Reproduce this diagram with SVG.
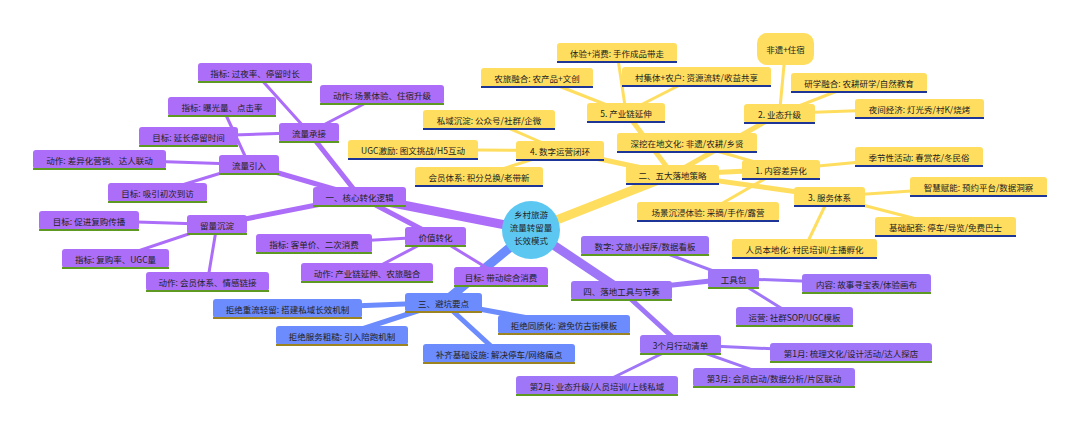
<svg xmlns="http://www.w3.org/2000/svg" width="1080" height="428" viewBox="0 0 1080 428">
<style>
text{font-family:"Noto Sans CJK SC","Noto Sans",sans-serif;font-size:8.5px;fill:#222;text-anchor:middle;dominant-baseline:central}
.s1 rect{fill:#AC6EF8}.s1 line{stroke:#5E9A22;stroke-width:2.2}
.s2 rect{fill:#FFDE5F}.s2 line{stroke:#1D3596;stroke-width:2.2}
.s3 rect{fill:#6C8BFD}.s3 line{stroke:#9C8420;stroke-width:2.2}
.s4 rect{fill:#A076F8}.s4 line{stroke:#5E9A22;stroke-width:2.2}
#edges line{stroke-linecap:round}
.e1{stroke:#AC6EF8}.e2{stroke:#FFDE5F}.e3{stroke:#6C8BFD}.e4{stroke:#A076F8}
.d0{stroke-width:9}.d1{stroke-width:5}.d2{stroke-width:3}
</style>
<rect width="1080" height="428" fill="#fff"/>
<g id="edges">
<line class="e1 d0" x1="531" y1="230" x2="359.5" y2="196.5"/>
<line class="e2 d0" x1="531" y1="230" x2="672.5" y2="174.5"/>
<line class="e3 d0" x1="531" y1="230" x2="443.5" y2="302.5"/>
<line class="e4 d0" x1="531" y1="230" x2="621.5" y2="290.5"/>
<line class="e1 d1" x1="359.5" y1="196.5" x2="249" y2="164.5"/>
<line class="e1 d1" x1="359.5" y1="196.5" x2="309" y2="132.5"/>
<line class="e1 d1" x1="359.5" y1="196.5" x2="217" y2="224.5"/>
<line class="e1 d1" x1="359.5" y1="196.5" x2="435.5" y2="236.5"/>
<line class="e1 d2" x1="249" y1="164.5" x2="99.5" y2="159.5"/>
<line class="e1 d2" x1="249" y1="164.5" x2="157.5" y2="192.5"/>
<line class="e1 d2" x1="249" y1="164.5" x2="222" y2="106.5"/>
<line class="e1 d2" x1="309" y1="132.5" x2="255" y2="72.5"/>
<line class="e1 d2" x1="309" y1="132.5" x2="382" y2="94.5"/>
<line class="e1 d2" x1="309" y1="132.5" x2="188.5" y2="136.5"/>
<line class="e1 d2" x1="217" y1="224.5" x2="89" y2="220.5"/>
<line class="e1 d2" x1="217" y1="224.5" x2="115.5" y2="258.5"/>
<line class="e1 d2" x1="217" y1="224.5" x2="207.5" y2="281.5"/>
<line class="e1 d2" x1="435.5" y1="236.5" x2="314" y2="243.5"/>
<line class="e1 d2" x1="435.5" y1="236.5" x2="367" y2="272.5"/>
<line class="e1 d2" x1="435.5" y1="236.5" x2="501" y2="276.5"/>
<line class="e2 d1" x1="672.5" y1="174.5" x2="781" y2="169.5"/>
<line class="e2 d1" x1="672.5" y1="174.5" x2="779.5" y2="113.5"/>
<line class="e2 d1" x1="672.5" y1="174.5" x2="829.5" y2="196.5"/>
<line class="e2 d1" x1="672.5" y1="174.5" x2="560" y2="150.5"/>
<line class="e2 d1" x1="672.5" y1="174.5" x2="626" y2="112.5"/>
<line class="e2 d2" x1="781" y1="169.5" x2="919" y2="156.5"/>
<line class="e2 d2" x1="781" y1="169.5" x2="708" y2="211.5"/>
<line class="e2 d2" x1="781" y1="169.5" x2="687" y2="142.5"/>
<line class="e2 d2" x1="779.5" y1="113.5" x2="785.5" y2="49"/>
<line class="e2 d2" x1="779.5" y1="113.5" x2="859" y2="82.5"/>
<line class="e2 d2" x1="779.5" y1="113.5" x2="919.5" y2="108.5"/>
<line class="e2 d2" x1="829.5" y1="196.5" x2="978.5" y2="186.5"/>
<line class="e2 d2" x1="829.5" y1="196.5" x2="945.5" y2="226.5"/>
<line class="e2 d2" x1="829.5" y1="196.5" x2="804.5" y2="248.5"/>
<line class="e2 d2" x1="560" y1="150.5" x2="489" y2="119.5"/>
<line class="e2 d2" x1="560" y1="150.5" x2="413" y2="149.5"/>
<line class="e2 d2" x1="560" y1="150.5" x2="479" y2="176.5"/>
<line class="e2 d2" x1="626" y1="112.5" x2="617" y2="52.5"/>
<line class="e2 d2" x1="626" y1="112.5" x2="696.5" y2="76.5"/>
<line class="e2 d2" x1="626" y1="112.5" x2="537" y2="77.5"/>
<line class="e3 d1" x1="443.5" y1="302.5" x2="287.5" y2="308.5"/>
<line class="e3 d1" x1="443.5" y1="302.5" x2="342" y2="335.5"/>
<line class="e3 d1" x1="443.5" y1="302.5" x2="564" y2="324.5"/>
<line class="e3 d1" x1="443.5" y1="302.5" x2="499" y2="353.5"/>
<line class="e4 d1" x1="621.5" y1="290.5" x2="733.5" y2="278.5"/>
<line class="e4 d1" x1="621.5" y1="290.5" x2="680.5" y2="344.5"/>
<line class="e4 d2" x1="733.5" y1="278.5" x2="645" y2="245.5"/>
<line class="e4 d2" x1="733.5" y1="278.5" x2="866.5" y2="283.5"/>
<line class="e4 d2" x1="733.5" y1="278.5" x2="794.5" y2="316.5"/>
<line class="e4 d2" x1="680.5" y1="344.5" x2="851" y2="352.5"/>
<line class="e4 d2" x1="680.5" y1="344.5" x2="597" y2="385.5"/>
<line class="e4 d2" x1="680.5" y1="344.5" x2="774" y2="377.5"/>
</g>
<g id="root"><circle cx="531" cy="230" r="29" fill="#5CC8F2"/><text x="531" y="214">乡村旅游</text><text x="531" y="227">流量转留量</text><text x="531" y="240">长效模式</text></g>
<g id="n1" class="s1"><rect x="313" y="187" width="93" height="19" rx="3"/><line x1="313" y1="206" x2="406" y2="206"/><text x="359.5" y="196.5">一、核心转化逻辑</text></g>
<g id="n1a" class="s1"><rect x="219" y="155" width="60" height="19" rx="3"/><line x1="219" y1="174" x2="279" y2="174"/><text x="249" y="164.5">流量引入</text></g>
<g id="n1a1" class="s1"><rect x="33" y="150" width="133" height="19" rx="3"/><line x1="33" y1="169" x2="166" y2="169"/><text x="99.5" y="159.5">动作: 差异化营销、达人联动</text></g>
<g id="n1a2" class="s1"><rect x="108" y="183" width="99" height="19" rx="3"/><line x1="108" y1="202" x2="207" y2="202"/><text x="157.5" y="192.5">目标: 吸引初次到访</text></g>
<g id="n1a3" class="s1"><rect x="168" y="97" width="108" height="19" rx="3"/><line x1="168" y1="116" x2="276" y2="116"/><text x="222" y="106.5">指标: 曝光量、点击率</text></g>
<g id="n1b" class="s1"><rect x="279" y="123" width="60" height="19" rx="3"/><line x1="279" y1="142" x2="339" y2="142"/><text x="309" y="132.5">流量承接</text></g>
<g id="n1b1" class="s1"><rect x="198" y="63" width="114" height="19" rx="3"/><line x1="198" y1="82" x2="312" y2="82"/><text x="255" y="72.5">指标: 过夜率、停留时长</text></g>
<g id="n1b2" class="s1"><rect x="320" y="85" width="124" height="19" rx="3"/><line x1="320" y1="104" x2="444" y2="104"/><text x="382" y="94.5">动作: 场景体验、住宿升级</text></g>
<g id="n1b3" class="s1"><rect x="139" y="127" width="99" height="19" rx="3"/><line x1="139" y1="146" x2="238" y2="146"/><text x="188.5" y="136.5">目标: 延长停留时间</text></g>
<g id="n1c" class="s1"><rect x="187" y="215" width="60" height="19" rx="3"/><line x1="187" y1="234" x2="247" y2="234"/><text x="217" y="224.5">留量沉淀</text></g>
<g id="n1c1" class="s1"><rect x="39" y="211" width="100" height="19" rx="3"/><line x1="39" y1="230" x2="139" y2="230"/><text x="89" y="220.5">目标: 促进复购传播</text></g>
<g id="n1c2" class="s1"><rect x="62" y="249" width="107" height="19" rx="3"/><line x1="62" y1="268" x2="169" y2="268"/><text x="115.5" y="258.5">指标: 复购率、UGC量</text></g>
<g id="n1c3" class="s1"><rect x="146" y="272" width="123" height="19" rx="3"/><line x1="146" y1="291" x2="269" y2="291"/><text x="207.5" y="281.5">动作: 会员体系、情感链接</text></g>
<g id="n1d" class="s1"><rect x="405" y="227" width="61" height="19" rx="3"/><line x1="405" y1="246" x2="466" y2="246"/><text x="435.5" y="236.5">价值转化</text></g>
<g id="n1d1" class="s1"><rect x="256" y="234" width="116" height="19" rx="3"/><line x1="256" y1="253" x2="372" y2="253"/><text x="314" y="243.5">指标: 客单价、二次消费</text></g>
<g id="n1d2" class="s1"><rect x="301" y="263" width="132" height="19" rx="3"/><line x1="301" y1="282" x2="433" y2="282"/><text x="367" y="272.5">动作: 产业链延伸、农旅融合</text></g>
<g id="n1d3" class="s1"><rect x="454" y="267" width="94" height="19" rx="3"/><line x1="454" y1="286" x2="548" y2="286"/><text x="501" y="276.5">目标: 带动综合消费</text></g>
<g id="n2" class="s2"><rect x="626" y="165" width="93" height="19" rx="3"/><line x1="626" y1="184" x2="719" y2="184"/><text x="672.5" y="174.5">二、五大落地策略</text></g>
<g id="n2a" class="s2"><rect x="742" y="160" width="78" height="19" rx="3"/><line x1="742" y1="179" x2="820" y2="179"/><text x="781" y="169.5">1. 内容差异化</text></g>
<g id="n2a1" class="s2"><rect x="855" y="147" width="128" height="19" rx="3"/><line x1="855" y1="166" x2="983" y2="166"/><text x="919" y="156.5">季节性活动: 春赏花/冬民俗</text></g>
<g id="n2a2" class="s2"><rect x="637" y="202" width="142" height="19" rx="3"/><line x1="637" y1="221" x2="779" y2="221"/><text x="708" y="211.5">场景沉浸体验: 采摘/手作/露营</text></g>
<g id="n2a3" class="s2"><rect x="617" y="133" width="140" height="19" rx="3"/><line x1="617" y1="152" x2="757" y2="152"/><text x="687" y="142.5">深挖在地文化: 非遗/农耕/乡贤</text></g>
<g id="n2b" class="s2"><rect x="744" y="104" width="71" height="19" rx="3"/><line x1="744" y1="123" x2="815" y2="123"/><text x="779.5" y="113.5">2. 业态升级</text></g>
<g id="n2b1" class="s2"><rect x="757" y="33" width="57" height="32" rx="10"/><text x="785.5" y="49">非遗+住宿</text></g>
<g id="n2b2" class="s2"><rect x="791" y="73" width="136" height="19" rx="3"/><line x1="791" y1="92" x2="927" y2="92"/><text x="859" y="82.5">研学融合: 农耕研学/自然教育</text></g>
<g id="n2b3" class="s2"><rect x="855" y="99" width="129" height="19" rx="3"/><line x1="855" y1="118" x2="984" y2="118"/><text x="919.5" y="108.5">夜间经济: 灯光秀/村K/烧烤</text></g>
<g id="n2c" class="s2"><rect x="794" y="187" width="71" height="19" rx="3"/><line x1="794" y1="206" x2="865" y2="206"/><text x="829.5" y="196.5">3. 服务体系</text></g>
<g id="n2c1" class="s2"><rect x="910" y="177" width="137" height="19" rx="3"/><line x1="910" y1="196" x2="1047" y2="196"/><text x="978.5" y="186.5">智慧赋能: 预约平台/数据洞察</text></g>
<g id="n2c2" class="s2"><rect x="875" y="217" width="141" height="19" rx="3"/><line x1="875" y1="236" x2="1016" y2="236"/><text x="945.5" y="226.5">基础配套: 停车/导览/免费巴士</text></g>
<g id="n2c3" class="s2"><rect x="732" y="239" width="145" height="19" rx="3"/><line x1="732" y1="258" x2="877" y2="258"/><text x="804.5" y="248.5">人员本地化: 村民培训/主播孵化</text></g>
<g id="n2d" class="s2"><rect x="516" y="141" width="88" height="19" rx="3"/><line x1="516" y1="160" x2="604" y2="160"/><text x="560" y="150.5">4. 数字运营闭环</text></g>
<g id="n2d1" class="s2"><rect x="423" y="110" width="132" height="19" rx="3"/><line x1="423" y1="129" x2="555" y2="129"/><text x="489" y="119.5">私域沉淀: 公众号/社群/企微</text></g>
<g id="n2d2" class="s2"><rect x="348" y="140" width="130" height="19" rx="3"/><line x1="348" y1="159" x2="478" y2="159"/><text x="413" y="149.5">UGC激励: 图文挑战/H5互动</text></g>
<g id="n2d3" class="s2"><rect x="415" y="167" width="128" height="19" rx="3"/><line x1="415" y1="186" x2="543" y2="186"/><text x="479" y="176.5">会员体系: 积分兑换/老带新</text></g>
<g id="n2e" class="s2"><rect x="587" y="103" width="78" height="19" rx="3"/><line x1="587" y1="122" x2="665" y2="122"/><text x="626" y="112.5">5. 产业链延伸</text></g>
<g id="n2e1" class="s2"><rect x="557" y="43" width="120" height="19" rx="3"/><line x1="557" y1="62" x2="677" y2="62"/><text x="617" y="52.5">体验+消费: 手作成品带走</text></g>
<g id="n2e2" class="s2"><rect x="622" y="67" width="149" height="19" rx="3"/><line x1="622" y1="86" x2="771" y2="86"/><text x="696.5" y="76.5">村集体+农户: 资源流转/收益共享</text></g>
<g id="n2e3" class="s2"><rect x="481" y="68" width="112" height="19" rx="3"/><line x1="481" y1="87" x2="593" y2="87"/><text x="537" y="77.5">农旅融合: 农产品+文创</text></g>
<g id="n3" class="s3"><rect x="405" y="293" width="77" height="19" rx="3"/><line x1="405" y1="312" x2="482" y2="312"/><text x="443.5" y="302.5">三、避坑要点</text></g>
<g id="n3a" class="s3"><rect x="213" y="299" width="149" height="19" rx="3"/><line x1="213" y1="318" x2="362" y2="318"/><text x="287.5" y="308.5">拒绝重流轻留: 搭建私域长效机制</text></g>
<g id="n3b" class="s3"><rect x="276" y="326" width="132" height="19" rx="3"/><line x1="276" y1="345" x2="408" y2="345"/><text x="342" y="335.5">拒绝服务粗糙: 引入陪跑机制</text></g>
<g id="n3c" class="s3"><rect x="498" y="315" width="132" height="19" rx="3"/><line x1="498" y1="334" x2="630" y2="334"/><text x="564" y="324.5">拒绝同质化: 避免仿古街模板</text></g>
<g id="n3d" class="s3"><rect x="423" y="344" width="152" height="19" rx="3"/><line x1="423" y1="363" x2="575" y2="363"/><text x="499" y="353.5">补齐基础设施: 解决停车/网络痛点</text></g>
<g id="n4" class="s4"><rect x="571" y="281" width="101" height="19" rx="3"/><line x1="571" y1="300" x2="672" y2="300"/><text x="621.5" y="290.5">四、落地工具与节奏</text></g>
<g id="n4a" class="s4"><rect x="708" y="269" width="51" height="19" rx="3"/><line x1="708" y1="288" x2="759" y2="288"/><text x="733.5" y="278.5">工具包</text></g>
<g id="n4a1" class="s4"><rect x="581" y="236" width="128" height="19" rx="3"/><line x1="581" y1="255" x2="709" y2="255"/><text x="645" y="245.5">数字: 文旅小程序/数据看板</text></g>
<g id="n4a2" class="s4"><rect x="802" y="274" width="129" height="19" rx="3"/><line x1="802" y1="293" x2="931" y2="293"/><text x="866.5" y="283.5">内容: 故事寻宝表/体验画布</text></g>
<g id="n4a3" class="s4"><rect x="736" y="307" width="117" height="19" rx="3"/><line x1="736" y1="326" x2="853" y2="326"/><text x="794.5" y="316.5">运营: 社群SOP/UGC模板</text></g>
<g id="n4b" class="s4"><rect x="640" y="335" width="81" height="19" rx="3"/><line x1="640" y1="354" x2="721" y2="354"/><text x="680.5" y="344.5">3个月行动清单</text></g>
<g id="n4b1" class="s4"><rect x="770" y="343" width="162" height="19" rx="3"/><line x1="770" y1="362" x2="932" y2="362"/><text x="851" y="352.5">第1月: 梳理文化/设计活动/达人探店</text></g>
<g id="n4b2" class="s4"><rect x="516" y="376" width="162" height="19" rx="3"/><line x1="516" y1="395" x2="678" y2="395"/><text x="597" y="385.5">第2月: 业态升级/人员培训/上线私域</text></g>
<g id="n4b3" class="s4"><rect x="693" y="368" width="162" height="19" rx="3"/><line x1="693" y1="387" x2="855" y2="387"/><text x="774" y="377.5">第3月: 会员启动/数据分析/片区联动</text></g>
</svg>
